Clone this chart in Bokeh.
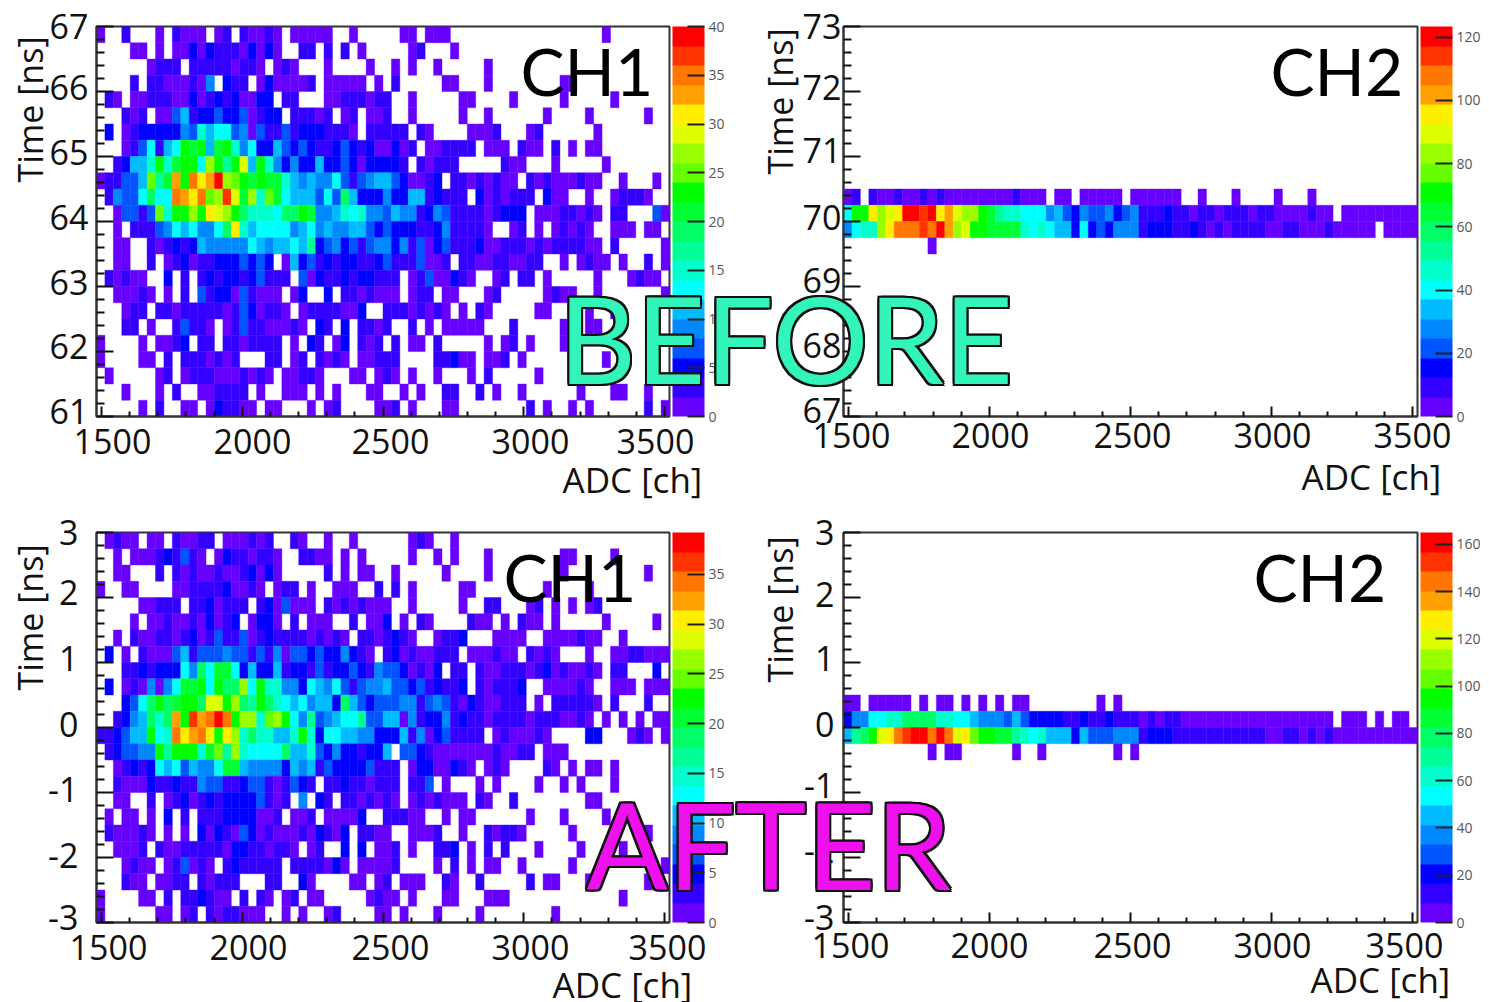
from bokeh.core.properties import value
from bokeh.embed import file_html
from bokeh.layouts import column, row
from bokeh.models import ColorBar, ColumnDataSource, FixedTicker, Label, LinearAxis, LinearColorMapper, Range1d
from bokeh.plotting import figure
from bokeh.resources import INLINE

# ---------- data ----------
palette = ["#6600ff", "#3300ff", "#0000ff", "#0055ff", "#0088ff", "#00bbff", "#00ffff", "#00ffcc", "#00ff99", "#00ff66",
           "#00ff33", "#00ff00", "#66ff00", "#99ff00", "#ddff00", "#ffee00", "#ffa000", "#ff7700", "#ff3300", "#ff0000"]

adc_ticks = [1500, 2000, 2500, 3000, 3500]
adc_labels = ["1500", "2000", "2500", "3000", "3500"]
before_ch1_ticks = [61, 62, 63, 64, 65, 66, 67]
before_ch2_ticks = [67, 68, 69, 70, 71, 72, 73]
after_ticks = [-3, -2, -1, 0, 1, 2, 3]

before_ch1 = [
 [1,0,0,3,0,0,0,1,0,3,1,1,1,0,1,3,0,3,1,1,3,1,0,1,1,1,1,1,0,0,1,0,0,0, 0,0,1,1,0,1,1,1,0,0,0,0,0,0,0,0,0,0,0,0,0,0,0,0,0,0,1,0,0,0,0,0,0,0],
 [0,0,0,0,1,1,0,1,0,1,1,5,1,5,3,3,3,1,5,1,5,1,0,0,3,3,0,3,0,3,0,1,0,0, 0,0,0,1,3,0,0,0,1,0,0,0,0,0,0,0,0,0,0,0,0,0,0,0,0,0,0,0,0,0,0,0,0,0],
 [0,0,0,0,0,0,1,3,3,3,0,3,3,3,3,3,1,3,3,1,0,1,3,1,0,0,0,1,0,0,0,0,1,0, 0,1,0,1,0,0,1,0,0,0,0,0,1,0,0,0,0,0,0,0,0,0,0,0,0,0,0,0,0,0,0,0,0,0],
 [0,0,0,0,3,0,3,3,1,1,1,3,1,9,0,5,3,3,0,1,5,1,1,1,1,3,0,1,1,1,1,1,0,1, 0,3,0,0,0,0,0,1,1,0,0,0,1,0,0,0,0,0,0,0,0,1,1,0,0,0,0,0,0,0,0,0,0,0],
 [0,3,1,0,1,1,3,3,3,1,1,5,1,3,5,3,5,1,1,5,5,0,3,3,0,0,0,1,1,3,3,3,1,3, 3,0,0,1,0,0,0,0,0,1,1,0,0,0,0,1,0,0,0,0,0,1,0,0,0,0,0,1,0,0,0,0,0,0],
 [0,0,0,3,1,3,0,1,1,7,11,3,5,5,7,5,5,7,1,3,5,5,0,3,3,3,1,3,0,1,3,0,1,1, 3,0,0,1,0,0,0,0,0,1,0,0,1,0,0,0,0,0,0,1,0,0,0,0,1,0,0,0,0,0,0,1,0,0],
 [0,5,0,1,3,5,5,5,5,5,9,7,15,11,13,13,7,9,1,7,3,3,7,3,5,5,5,3,3,3,1,0,3,3, 3,3,3,0,3,1,0,0,0,0,1,1,1,3,0,0,0,1,3,0,0,0,0,0,0,1,0,0,0,0,0,0,0,0],
 [0,0,0,1,3,7,13,3,11,13,23,21,23,11,21,23,15,9,13,5,5,11,7,5,7,5,3,3,5,7,5,3,5,1, 1,5,1,3,0,1,1,3,3,3,3,0,1,1,1,0,3,1,1,0,3,0,1,0,1,1,0,0,0,0,0,0,0,0],
 [0,0,3,5,11,11,15,23,15,21,23,23,13,27,23,17,23,29,11,23,15,9,5,9,5,5,11,5,5,7,5,1,5,5, 5,5,3,0,3,1,3,3,3,0,0,0,0,0,3,1,1,0,0,0,1,0,0,0,0,0,1,0,0,0,0,0,0,0],
 [1,3,3,7,7,11,25,17,21,33,23,35,31,33,39,27,25,23,21,23,21,21,15,11,9,11,9,9,13,7,3,7,9,11, 11,7,5,1,1,3,5,0,3,3,1,3,1,3,1,1,0,3,1,3,1,1,1,3,1,1,0,0,1,0,0,0,1,0],
 [0,3,9,7,7,13,19,13,13,35,33,31,35,25,27,37,29,21,27,15,25,21,13,11,11,11,7,13,7,19,11,5,5,5, 9,5,5,11,11,3,5,3,3,3,0,5,1,3,1,3,3,3,0,5,1,1,0,0,1,0,0,1,3,3,3,1,0,0],
 [0,0,1,7,7,3,7,25,15,23,23,27,23,31,29,27,23,19,15,15,15,13,19,19,23,21,9,9,11,15,13,15,9,9, 7,11,9,9,3,5,9,7,3,3,3,3,1,3,5,5,5,0,1,1,1,3,3,1,3,1,0,3,3,0,0,0,7,1],
 [0,0,1,0,3,3,3,7,9,13,11,13,9,9,13,19,31,15,11,13,13,13,13,9,11,13,9,11,9,9,11,11,7,5, 7,5,5,5,3,3,5,9,3,3,3,3,1,0,0,1,3,0,1,0,1,3,1,3,1,0,0,1,1,1,0,1,1,0],
 [0,0,1,1,0,0,3,1,3,5,3,5,11,9,9,9,9,9,13,11,9,11,11,13,11,17,5,7,9,5,7,3,7,9, 9,5,9,3,7,1,5,7,3,3,3,5,1,1,3,3,3,1,3,1,3,3,3,3,1,1,0,3,0,0,0,0,0,1],
 [0,0,1,1,0,0,3,0,1,3,5,1,3,3,5,5,5,7,5,7,5,0,1,11,5,7,3,5,3,5,5,3,3,5, 7,3,3,3,7,1,1,3,0,3,3,1,1,3,3,1,1,3,3,0,0,1,0,1,3,1,1,0,1,0,0,3,0,1],
 [0,3,1,3,1,1,0,0,5,0,3,0,3,5,3,5,5,3,5,7,3,3,3,0,7,1,5,3,3,5,3,5,5,3, 3,3,0,1,3,7,1,1,5,3,1,0,0,1,3,0,3,3,0,1,0,0,0,0,0,1,0,0,0,1,3,1,1,0],
 [0,0,1,1,1,3,1,0,1,0,3,0,7,3,5,5,1,7,3,1,1,1,0,1,5,0,0,5,0,3,3,1,3,1, 1,1,0,1,3,3,0,1,1,0,0,0,1,3,0,0,0,0,0,1,3,1,1,0,0,1,0,0,0,0,0,0,0,1],
 [0,0,0,1,3,3,0,3,3,1,3,3,3,3,3,1,3,7,5,1,3,3,1,0,1,3,3,3,3,1,1,5,0,0, 3,3,3,1,3,1,3,1,0,1,0,3,1,0,0,0,0,0,1,1,0,0,0,0,1,0,0,1,0,0,0,0,0,0],
 [0,0,0,3,3,0,1,0,0,3,7,3,3,1,0,1,3,7,3,3,1,1,1,3,1,0,5,3,0,5,0,3,3,1, 3,0,0,3,0,1,0,1,1,1,1,1,0,0,0,3,0,0,0,0,0,1,0,0,1,1,0,0,0,0,0,0,0,0],
 [1,0,0,0,0,1,0,1,1,3,5,0,3,3,0,3,3,1,3,3,3,3,0,1,0,5,3,0,1,5,0,3,1,3, 0,3,0,1,1,0,3,0,0,0,0,0,1,0,1,3,0,1,0,0,0,1,0,0,0,0,0,0,0,0,0,0,0,0],
 [1,0,0,0,0,1,1,0,3,0,3,3,3,1,3,1,3,0,0,0,3,3,0,1,3,0,3,1,3,1,0,1,1,3, 3,3,0,0,0,0,3,3,5,1,1,0,1,1,3,0,1,0,0,0,0,0,0,0,0,0,1,0,0,0,0,0,0,0],
 [0,1,0,0,0,0,0,1,3,0,1,3,3,3,1,1,1,3,1,3,1,0,1,1,3,3,1,0,0,0,1,1,0,1, 3,1,0,1,0,0,1,0,0,0,1,0,3,0,0,0,0,0,1,0,0,0,1,0,0,0,0,0,0,0,0,0,0,0],
 [0,0,0,1,0,0,0,1,0,3,0,0,1,1,3,3,3,3,0,1,0,0,1,1,1,0,1,0,1,0,0,0,1,1, 0,0,1,0,1,0,0,3,3,0,0,3,0,1,0,0,1,0,0,0,0,0,0,1,0,0,0,1,1,0,0,1,0,0],
 [0,0,0,0,0,1,0,3,0,0,1,1,0,1,5,3,3,1,1,0,1,1,0,0,0,1,0,1,3,0,0,0,0,1, 1,3,0,1,0,0,0,1,1,0,0,0,0,0,0,0,0,3,0,1,0,0,1,0,1,0,0,0,0,0,0,3,0,1],
]

after_ch1 = [
 [0,1,3,1,1,0,1,1,0,3,1,1,3,3,0,1,1,1,3,1,3,0,0,3,1,0,0,1,0,0,1,0,0,0, 0,0,0,1,3,1,0,0,1,0,0,0,0,0,0,0,0,0,0,0,0,0,0,0,0,0,0,0,0,0,0,0,0,0],
 [0,0,1,0,1,1,1,3,5,3,7,3,1,0,1,5,3,3,1,3,3,1,0,0,3,3,1,1,0,1,0,1,0,0, 0,0,0,1,0,0,1,0,1,0,0,0,1,0,0,0,0,0,0,0,0,1,1,0,0,0,0,1,0,0,0,0,0,0],
 [0,0,1,1,0,0,0,3,0,3,1,3,1,1,3,1,1,3,5,1,5,1,0,0,0,0,0,3,0,1,0,1,1,0, 0,1,0,0,0,0,0,1,0,0,0,0,1,0,0,0,0,0,0,0,0,1,0,0,0,0,0,0,0,0,0,1,0,0],
 [1,0,0,1,1,0,0,0,0,1,1,3,3,3,3,5,1,1,3,1,0,1,3,3,0,1,0,0,1,1,1,0,0,3, 0,3,0,1,0,0,0,0,0,1,1,0,0,0,0,0,0,0,0,1,0,0,0,0,1,0,0,0,0,0,0,0,0,0],
 [0,0,0,0,0,1,1,3,3,3,0,3,3,5,1,3,3,3,0,3,5,1,7,1,1,1,0,3,1,3,1,3,1,1, 1,0,0,1,0,0,0,0,0,1,0,0,3,3,0,0,0,1,3,0,1,0,1,0,1,3,0,0,0,0,0,0,0,0],
 [0,0,0,0,1,0,1,1,3,1,1,3,1,5,1,3,5,0,1,5,5,1,0,3,0,1,1,1,0,0,3,0,1,1, 5,0,1,0,3,1,0,0,0,0,3,1,1,0,1,0,3,1,1,0,1,0,0,0,0,0,1,0,0,0,0,0,1,0],
 [0,0,1,0,3,1,1,3,3,1,3,5,1,3,7,3,3,7,1,3,5,3,3,3,3,1,3,1,3,1,0,3,3,1, 3,5,3,1,0,0,1,3,3,5,0,0,0,1,1,1,1,0,0,1,1,1,1,3,1,1,0,0,1,0,0,0,0,0],
 [0,5,0,1,0,3,1,1,1,7,11,3,7,7,7,9,7,7,3,7,3,9,1,7,7,5,7,5,5,9,5,3,1,0, 3,5,1,3,1,1,3,3,3,0,1,1,1,3,1,1,0,3,1,3,1,0,0,0,1,0,0,1,1,3,3,1,1,1],
 [0,0,0,3,3,5,3,5,5,5,13,9,19,13,21,21,13,5,11,5,5,11,3,5,5,3,7,3,5,5,7,5,3,9, 7,7,5,1,3,1,5,0,3,3,0,3,1,1,3,3,3,1,3,5,1,3,1,1,3,1,0,3,3,0,0,0,5,0],
 [0,5,0,1,3,1,9,1,9,13,21,21,23,13,23,19,19,27,13,23,15,15,9,9,5,13,11,9,13,7,3,7,9,9, 11,7,7,5,7,3,5,3,3,5,0,3,1,3,3,3,5,0,0,1,1,1,1,3,1,0,0,1,1,1,0,1,1,1],
 [0,0,0,5,7,13,19,23,19,21,23,23,19,29,29,23,27,19,17,23,19,15,13,11,13,9,11,11,5,19,11,7,5,7, 7,7,9,9,3,7,9,7,3,1,5,3,1,1,3,3,3,0,1,0,3,3,3,3,3,1,0,3,0,0,0,3,0,0],
 [0,0,3,5,9,11,19,15,19,33,23,37,33,35,39,35,23,27,27,15,25,27,23,13,9,17,7,9,11,13,13,17,7,7, 11,11,1,9,3,5,5,9,3,5,3,3,1,3,3,3,3,1,3,3,3,1,1,3,1,0,1,0,1,0,1,0,1,1],
 [3,3,5,7,11,11,23,13,15,35,31,33,35,31,23,31,27,15,19,15,15,11,11,15,23,15,5,13,13,11,11,9,9,5, 5,5,11,3,9,1,5,7,3,3,3,3,0,1,3,1,1,1,3,1,0,0,0,0,5,5,0,0,0,1,3,1,0,1],
 [0,3,5,7,7,9,9,23,17,23,23,23,15,21,25,17,27,15,13,13,13,13,19,11,11,15,7,5,9,5,5,3,5,5, 11,0,7,7,5,3,1,1,1,1,1,1,1,3,1,1,3,3,0,1,1,1,0,0,0,0,0,0,0,0,0,0,0,0],
 [0,0,1,3,5,3,5,13,11,13,7,11,9,9,13,21,21,11,9,9,9,9,5,11,9,11,3,7,5,5,5,5,7,3, 3,3,0,1,5,5,1,1,5,3,1,0,1,3,1,0,0,0,0,3,1,0,1,0,1,1,0,1,0,0,0,0,0,0],
 [0,0,3,1,1,1,5,3,3,5,3,3,9,7,7,3,3,5,7,7,3,1,3,7,5,3,0,3,3,5,3,3,1,3, 3,3,0,3,3,7,0,1,0,0,0,1,0,1,0,0,0,0,1,0,0,1,0,1,0,0,0,1,0,0,0,0,0,0],
 [0,0,1,1,0,0,3,0,1,3,5,1,3,5,3,5,5,5,5,7,3,1,3,0,9,0,5,3,0,3,3,1,3,1, 3,1,0,1,3,1,3,1,1,1,0,3,1,0,0,3,0,0,0,0,0,0,0,0,1,1,0,0,0,0,0,0,0,0],
 [0,1,0,1,1,0,1,0,5,0,3,0,3,3,3,5,5,5,5,1,1,3,0,1,1,3,0,1,1,1,1,5,0,0, 3,3,3,1,1,0,0,1,0,1,1,0,0,0,0,0,0,1,0,0,0,1,0,0,0,0,1,0,0,0,0,0,0,0],
 [0,3,1,1,1,3,1,0,1,0,1,0,5,1,5,3,1,7,5,1,3,1,1,1,3,1,5,3,1,5,0,3,3,1, 1,0,0,1,1,1,3,0,0,1,0,0,3,1,3,3,1,0,0,0,0,0,1,0,0,0,0,0,0,0,0,1,0,0],
 [0,0,1,1,1,3,0,3,1,1,3,3,3,3,3,1,5,5,3,3,1,3,3,1,0,1,3,0,0,5,0,5,0,1, 1,3,0,1,0,0,3,3,5,0,1,0,3,0,3,0,0,0,1,0,0,0,0,1,0,0,0,0,1,0,0,0,0,0],
 [0,0,0,1,3,1,1,0,1,3,7,1,3,1,0,3,5,3,3,3,3,3,0,3,3,3,3,1,5,1,0,1,1,1, 1,3,0,0,0,0,1,0,3,0,1,0,1,1,0,0,1,0,0,0,0,0,1,0,0,0,0,0,0,0,0,0,0,1],
 [0,0,0,3,1,1,0,1,1,3,3,0,3,1,3,3,3,0,0,0,3,3,0,0,5,1,0,0,0,0,1,1,0,1, 3,0,1,1,1,0,0,3,1,0,0,3,0,0,0,0,0,3,0,1,1,0,0,0,1,0,0,0,0,0,0,1,0,0],
 [1,0,0,0,0,1,1,0,3,0,3,3,5,3,1,1,0,3,0,3,1,0,1,3,0,1,1,0,0,0,0,0,1,3, 1,1,0,1,0,0,0,1,1,0,0,0,1,1,1,0,0,0,0,0,0,0,0,0,0,0,0,0,1,0,0,0,0,0],
 [1,0,0,0,0,0,0,1,1,0,1,3,0,3,1,3,3,1,1,1,0,0,1,0,1,0,0,1,3,0,0,0,0,1, 1,0,1,0,0,0,1,0,0,0,0,1,0,0,0,0,0,0,0,0,1,0,0,0,0,0,0,0,0,0,0,0,0,0],
]

before_ch2_first_row = 10
before_ch2 = [
 [3,9,0,9,3,3,9,3,3,9,3,9,3,3,3,3,3,3,3,3,9,3,3,3,0,3,3,0,3,3,3,3,3,0, 3,3,3,3,3,3,0,0,3,0,0,0,3,0,0,0,0,3,0,0,0,3,0,0,0,0,0,0,0,0,0,0,0,0],
 [40,71,71,96,83,89,96,120,120,114,120,96,102,89,83,83,71,65,52,46,46,40,40,40,28,34,22,15,28,22,22,28,15,22, 28,9,9,9,15,9,9,3,9,9,3,9,9,9,3,9,9,3,3,3,3,9,3,3,0,3,3,3,3,3,3,3,3,3],
 [28,40,46,46,83,96,108,108,108,114,108,120,102,83,89,71,71,65,65,65,65,46,40,46,40,34,34,15,40,15,22,15,28,28, 28,9,15,15,15,9,9,15,9,3,9,3,9,9,9,9,3,3,9,9,3,3,3,9,3,3,3,3,3,0,3,3,3,3],
 [0,0,0,0,0,0,0,0,0,0,3,0,0,0,0,0,0,0,0,0,0,0,0,0,0,0,0,0,0,0,0,0,0,0, 0,0,0,0,0,0,0,0,0,0,0,0,0,0,0,0,0,0,0,0,0,0,0,0,0,0,0,0,0,0,0,0,0,0],
]

after_ch2_first_row = 10
after_ch2 = [
 [4,4,0,4,4,4,4,4,0,4,0,4,4,0,4,0,4,0,4,0,4,4,0,0,0,0,0,0,0,0,4,0,4,0, 0,0,0,0,0,0,0,0,0,0,0,0,0,0,0,0,0,0,0,0,0,0,0,0,0,0,0,0,0,0,0,0,0,0],
 [21,37,37,54,54,62,62,78,78,78,78,62,62,54,54,45,37,37,37,29,45,29,21,21,21,21,12,12,21,12,12,21,12,12, 12,4,12,4,12,12,4,4,4,4,4,4,4,4,4,4,4,4,4,4,4,4,4,4,0,4,4,4,0,4,0,4,4,0],
 [45,70,78,95,120,128,144,153,161,161,144,161,144,120,128,103,95,95,87,87,70,62,54,62,45,45,45,21,45,29,29,29,37,37, 37,12,21,21,21,12,12,12,12,12,12,12,12,12,12,12,4,4,12,12,4,12,4,12,4,4,4,4,4,4,4,4,4,4],
 [0,0,0,0,0,0,0,0,0,0,4,0,4,4,0,0,0,0,0,0,4,0,0,4,0,0,0,0,0,0,0,0,4,0, 4,0,0,0,0,0,0,0,0,0,0,0,0,0,0,0,0,0,0,0,0,0,0,0,0,0,0,0,0,0,0,0,0,0],
]

# ---------- layout ----------
X_MIN, X_MAX, N_COLS, N_ROWS = 1482.0, 3518.0, 68, 24
FONT = "Open Sans"
TOTAL_W, TOTAL_H = 1479, 1002
PAGE_X = 8


def panel(rows, first_row, y_min, y_max, y_ticks, y_labels, high, bar_ticks, frame, canvas,
          x_label_px, y_label_px, y_standoff, x_standoff):
    frame_left, frame_top, frame_w, frame_h = frame
    left, top, width, height = canvas
    L = frame_left - left
    T = frame_top - top
    R = width - L - frame_w
    B = height - T - frame_h
    p = figure(width=width, height=height, x_range=Range1d(X_MIN, X_MAX), y_range=Range1d(y_min, y_max),
               output_backend="svg", toolbar_location=None, min_border_left=L, min_border_right=R,
               min_border_top=T, min_border_bottom=B, x_axis_location=None, y_axis_location=None,
               frame_width=frame_w, frame_height=frame_h,
               outline_line_color="#333333", outline_line_width=2)
    p.grid.visible = False

    mapper = LinearColorMapper(palette=palette, low=0, high=high)
    dx = (X_MAX - X_MIN) / N_COLS
    dy = (y_max - y_min) / N_ROWS
    l, r, t, b, c = [], [], [], [], []
    for i, vals in enumerate(rows):
        ri = first_row + i
        for j, v in enumerate(vals[:N_COLS]):
            if v > 0:
                l.append(X_MIN + j * dx)
                r.append(X_MIN + (j + 1) * dx)
                t.append(y_max - ri * dy)
                b.append(y_max - (ri + 1) * dy)
                c.append(v)
    src = ColumnDataSource(dict(left=l, right=r, top=t, bottom=b, count=c))
    p.quad(left="left", right="right", top="top", bottom="bottom", source=src,
           fill_color={"field": "count", "transform": mapper},
           line_color={"field": "count", "transform": mapper}, line_width=0.4)

    # axes that carry the ticks
    xminor = [v for v in range(1600, 3500, 100) if v % 500]
    xaxis = LinearAxis(ticker=FixedTicker(ticks=adc_ticks, minor_ticks=xminor), major_tick_in=10, major_tick_out=0,
                       minor_tick_in=5, minor_tick_out=0, major_label_text_font_size="1px", major_label_standoff=0,
                       major_label_overrides={v: "" for v in adc_ticks},
                       axis_line_color="#333333", axis_line_width=2, major_tick_line_color="#111111",
                       minor_tick_line_color="#111111", major_tick_line_width=2, minor_tick_line_width=2)
    p.add_layout(xaxis, "below")
    step = (y_ticks[1] - y_ticks[0]) / 5
    yminor = [y_ticks[0] + k * step for k in range(1, 30) if k % 5]
    yaxis = LinearAxis(ticker=FixedTicker(ticks=y_ticks, minor_ticks=yminor), major_tick_in=17, major_tick_out=0,
                       minor_tick_in=8, minor_tick_out=0, major_label_text_font_size="1px", major_label_standoff=0,
                       major_label_overrides={v: "" for v in y_ticks},
                       axis_line_color="#333333", axis_line_width=2, major_tick_line_color="#111111",
                       minor_tick_line_color="#111111", major_tick_line_width=2, minor_tick_line_width=2)
    p.add_layout(yaxis, "left")

    # axes that carry the tick labels, offset from the ticks as in the picture
    xt = [round(X_MIN + (px - frame_left) / frame_w * (X_MAX - X_MIN), 3) for px in x_label_px]
    xlab = LinearAxis(ticker=FixedTicker(ticks=xt, minor_ticks=[]), major_label_overrides=dict(zip(xt, adc_labels)),
                      axis_line_color=None, major_tick_line_color=None, minor_tick_line_color=None, major_tick_in=0,
                      major_tick_out=0, minor_tick_in=0, minor_tick_out=0, major_label_standoff=x_standoff,
                      major_label_text_font_size="34px", major_label_text_font=FONT, major_label_text_color="#111111")
    p.add_layout(xlab, "below")
    yt = [round(min(y_max, y_max - (py - frame_top) / frame_h * (y_max - y_min)), 3) for py in y_label_px]
    ylab = LinearAxis(ticker=FixedTicker(ticks=yt, minor_ticks=[]), major_label_overrides=dict(zip(yt, y_labels)),
                      axis_line_color=None, major_tick_line_color=None, minor_tick_line_color=None, major_tick_in=0,
                      major_tick_out=0, minor_tick_in=0, minor_tick_out=0, major_label_standoff=y_standoff,
                      major_label_text_font_size="34px", major_label_text_font=FONT, major_label_text_color="#111111")
    p.add_layout(ylab, "left")

    cb = ColorBar(color_mapper=mapper, ticker=FixedTicker(ticks=bar_ticks), width=32, height=frame_h, padding=0, margin=0,
                  location=(3, 0), major_tick_in=17, major_tick_line_color="#222222", major_tick_line_width=2,
                  minor_tick_line_color=None, bar_line_color=None, label_standoff=4,
                  major_label_text_font_size="14px", major_label_text_color="#555555", major_label_text_font=FONT)
    p.add_layout(cb, "right")
    return p


bl1 = [str(v) for v in before_ch1_ticks]
bl2 = [str(v) for v in before_ch2_ticks]
al = [str(v) for v in after_ticks]

p1 = panel(before_ch1, 0, 61, 67, before_ch1_ticks, bl1, 40, [0, 5, 10, 15, 20, 25, 30, 35, 40],
           (96, 26, 573, 390), (8, 0, 727, 508),
           [112, 252, 390, 530, 655], [411, 346, 282, 217, 152, 87, 22], 8, 12)
p2 = panel(before_ch2, before_ch2_first_row, 67, 73, before_ch2_ticks, bl2, 123.4, [0, 20, 40, 60, 80, 100, 120],
           (843, 26, 574, 390), (735, 0, 752, 508),
           [851, 990, 1132, 1272, 1412], [410, 345, 280, 217, 150, 87, 22], 2, 6)
p3 = panel(after_ch1, 0, -3, 3, after_ticks, al, 39.2, [0, 5, 10, 15, 20, 25, 30, 35],
           (96, 532, 573, 390), (8, 508, 727, 494),
           [108, 248, 390, 530, 667], [917, 855, 789, 724, 658, 592, 527], 18, 12)
p4 = panel(after_ch2, after_ch2_first_row, -3, 3, after_ticks, al, 165, [0, 20, 40, 60, 80, 100, 120, 140, 160],
           (843, 532, 574, 390), (735, 508, 752, 494),
           [850, 989, 1132, 1272, 1404], [917, 850, 785, 724, 658, 594, 527], 9, 10)

overlay = figure(width=TOTAL_W, height=TOTAL_H, x_range=Range1d(0, TOTAL_W), y_range=Range1d(TOTAL_H, 0),
                 output_backend="svg", toolbar_location=None, min_border=0, x_axis_location=None, y_axis_location=None,
                 background_fill_alpha=0, border_fill_alpha=0, outline_line_color=None,
                 margin=(-TOTAL_H, 0, 0, 0))
overlay.grid.visible = False

BASELINE_SHIFT = 0.385


def page_label(text, x, y, size, font=FONT, angle=0.0, color="#111111"):
    # x, y: baseline start in page pixels
    shift = BASELINE_SHIFT * size
    cx, cy = x - PAGE_X, y
    if angle:
        cx -= shift
    else:
        cy -= shift
    overlay.add_layout(Label(x=cx, y=TOTAL_H - cy, x_units="screen", y_units="screen", text=text,
                             text_font=font, text_font_size=f"{size}px", text_color=color, angle=angle,
                             text_align="left", text_baseline="alphabetic"))


for t, x, y in [("CH1", 520, 95), ("CH2", 1270, 95), ("CH1", 503, 601), ("CH2", 1253, 601)]:
    page_label(t, x, y, 66, "Lato", color="#000000")
for x, y in [(43, 182), (793, 174), (43, 690), (793, 682)]:
    page_label("Time [ns]", x, y, 34, angle=1.5708)
for x, y in [(562, 492), (1301, 489), (552, 997), (1310, 992)]:
    page_label("ADC [ch]", x, y, 35)

WORD_SIZE = 120
OUTLINE = [(-2, -2), (0, -2), (2, -2), (-2, 0), (2, 0), (-2, 2), (0, 2), (2, 2)]
for word, x, y, fill in [("BEFORE", 558, 384, "#33f5bb"), ("AFTER", 586, 890, "#ee11ee")]:
    cx, cy = x - PAGE_X, y - BASELINE_SHIFT * WORD_SIZE
    overlay.text(x=[cx + a for a, _ in OUTLINE], y=[cy + b for _, b in OUTLINE], text=[word] * len(OUTLINE),
                 text_font=value("Lato"), text_font_size=f"{WORD_SIZE}px", text_color="#111111",
                 text_align="left", text_baseline="alphabetic")
    overlay.text(x=[cx], y=[cy], text=[word], text_font=value("Lato"), text_font_size=f"{WORD_SIZE}px",
                 text_color=fill, text_align="left", text_baseline="alphabetic")

layout = column(row(p1, p2, spacing=0), row(p3, p4, spacing=0), overlay, spacing=0, margin=(0, 0, 0, PAGE_X))
open("out.html", "w").write(file_html(layout, INLINE))
